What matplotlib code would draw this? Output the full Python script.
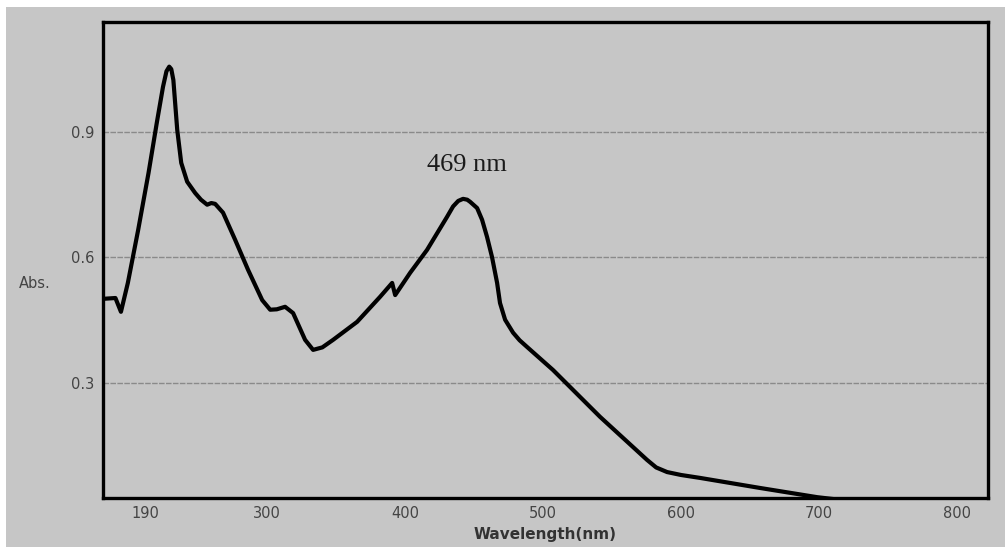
import matplotlib
matplotlib.use("Agg")
import matplotlib.pyplot as plt
from matplotlib.patches import Rectangle

# UV-Vis spectrum
wavelength = [181, 190, 194, 199, 206.5, 214, 220, 224.5, 227, 229, 230.5, 232, 234.8,
              237.7, 242, 247.8, 252, 256.5, 259.5, 262.3, 268, 276.8, 286.2, 296.4,
              302.2, 307, 313, 318.8, 327.5, 333.3, 340, 347.8, 365.2, 381.9, 390.6,
              392.8, 403.6, 415.9, 430.4, 434.8, 438.5, 442, 445, 447.1, 452.2, 455.8,
              459.4, 463, 466.7, 468.8, 472.5, 478.3, 483, 488.4, 507.2, 541.3, 575.4,
              582, 589.9, 600, 613.8, 657.2, 698.6, 722]
absorbance = [0.501, 0.503, 0.470, 0.539, 0.666, 0.802, 0.922, 1.008, 1.045, 1.056,
              1.05, 1.024, 0.905, 0.826, 0.781, 0.754, 0.738, 0.726, 0.730, 0.728,
              0.707, 0.642, 0.570, 0.498, 0.475, 0.476, 0.482, 0.467, 0.403, 0.379,
              0.385, 0.403, 0.446, 0.506, 0.539, 0.510, 0.563, 0.618, 0.697, 0.722,
              0.735, 0.740, 0.738, 0.733, 0.718, 0.690, 0.649, 0.601, 0.539, 0.491,
              0.451, 0.420, 0.402, 0.386, 0.331, 0.219, 0.116, 0.098, 0.087, 0.080,
              0.073, 0.049, 0.027, 0.018]

x_tick_pos = [212, 300, 400, 500, 600, 700, 800]
x_tick_labels = ["190", "300", "400", "500", "600", "700", "800"]
y_ticks = [0.3, 0.6, 0.9]
y_tick_labels = ["0.3", "0.6", "0.9"]

peak_label = "469 nm"

bg = "#c6c6c6"
fig = plt.figure(figsize=(10.05, 5.47), dpi=100, facecolor=bg)

# white strips along the top and left edges of the scan
fig.patches.append(Rectangle((0, 1 - 7 / 547), 1, 7 / 547, transform=fig.transFigure,
                             facecolor="white", edgecolor="none", zorder=0))
fig.patches.append(Rectangle((0, 0), 6 / 1005, 1, transform=fig.transFigure,
                             facecolor="white", edgecolor="none", zorder=0))

ax = fig.add_axes([0.1025, 0.0896, 0.8805, 0.8704])
ax.set_facecolor(bg)

ax.plot(wavelength, absorbance, color="black", lw=3.0,
        solid_joinstyle="round", solid_capstyle="round", zorder=3)

ax.set_xlim(181, 822.5)
ax.set_ylim(0.025, 1.163)

ax.set_xticks(x_tick_pos)
ax.set_xticklabels(x_tick_labels)
ax.set_yticks(y_ticks)
ax.set_yticklabels(y_tick_labels)
ax.tick_params(length=0, labelsize=10.5, labelcolor="#444444", pad=6)

ax.grid(axis="y", color="#8a8a8a", lw=1.0, linestyle=(0, (4, 1)))
for s in ax.spines.values():
    s.set_linewidth(2.4)
    s.set_color("black")

ax.set_xlabel("Wavelength(nm)", fontsize=11, fontweight="bold", color="#333333", labelpad=4)
fig.text(35 / 1005, 1 - 284 / 547, "Abs.", fontsize=10.5, color="#444444",
         ha="center", va="center")

ax.text(445, 0.82, peak_label, fontsize=19, family="Liberation Serif",
        color="#1a1a1a", ha="center", va="center")

fig.savefig("out.png", dpi=100, facecolor=bg)
